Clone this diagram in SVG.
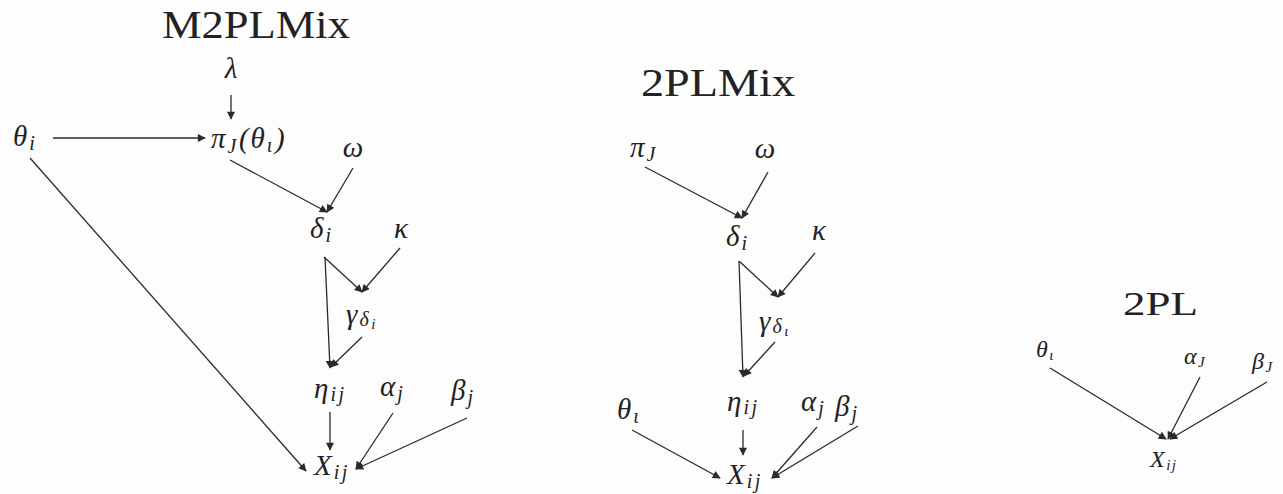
<svg xmlns="http://www.w3.org/2000/svg" width="1283" height="494" viewBox="0 0 1283 494">
<style>
.title{font-family:"Liberation Serif",serif;font-size:39px;fill:#222}
.m{font-family:"Liberation Serif","DejaVu Serif",serif;font-style:italic;font-size:29px;letter-spacing:2px;fill:#222}
.s{font-size:20px;letter-spacing:2.5px}
.ss{font-size:15px}
.sm{font-family:"Liberation Serif","DejaVu Serif",serif;font-style:italic;font-size:24px;letter-spacing:1.5px;fill:#222}
.e{stroke:#2a2a2a;stroke-width:1.3;fill:none;marker-end:url(#ah)}
</style>
<defs>
<marker id="ah" viewBox="0 0 10 10" refX="9" refY="5" markerWidth="9" markerHeight="8" markerUnits="userSpaceOnUse" orient="auto">
<path d="M0,0 L10,5 L0,10 z" fill="#2a2a2a"/>
</marker>
</defs>
<rect width="1283" height="494" fill="#fdfdfd"/>
<!-- M2PLMix -->
<g id="m2plmix-title"><text class="title" x="162" y="38" textLength="188" lengthAdjust="spacingAndGlyphs">M2PLMix</text></g>
<g id="m-lambda"><text class="m" x="232" y="78" text-anchor="middle">λ</text></g>
<g id="m-theta"><text class="m" x="13" y="146">θ<tspan class="s" dy="4">i</tspan></text></g>
<g id="m-pi"><text class="m" x="211" y="148">π<tspan class="s" dy="5">J</tspan><tspan dy="-5">(θ</tspan><tspan class="s" dy="4">ι</tspan><tspan dy="-4">)</tspan></text></g>
<g id="m-omega"><text class="m" x="354" y="157" text-anchor="middle">ω</text></g>
<g id="m-delta"><text class="m" x="310" y="238">δ<tspan class="s" dy="4">i</tspan></text></g>
<g id="m-kappa"><text class="m" x="402" y="238" text-anchor="middle">κ</text></g>
<g id="m-gamma"><text class="m" x="346" y="324">γ<tspan class="s" dy="2">δ</tspan><tspan class="ss" dy="3">i</tspan></text></g>
<g id="m-eta"><text class="m" x="314" y="398">η<tspan class="s" dy="3">ij</tspan></text></g>
<g id="m-alpha"><text class="m" x="380" y="396">α<tspan class="s" dy="4">j</tspan></text></g>
<g id="m-beta"><text class="m" x="451" y="400">β<tspan class="s" dy="4">j</tspan></text></g>
<g id="m-x"><text class="m" x="314" y="475">X<tspan class="s" dy="4">ij</tspan></text></g>
<!-- 2PLMix -->
<g id="twoplmix-title"><text class="title" x="641" y="96" textLength="154" lengthAdjust="spacingAndGlyphs">2PLMix</text></g>
<g id="p-pi"><text class="m" x="630" y="157">π<tspan class="s" dy="4">J</tspan></text></g>
<g id="p-omega"><text class="m" x="766" y="158" text-anchor="middle">ω</text></g>
<g id="p-delta"><text class="m" x="726" y="246">δ<tspan class="s" dy="4">i</tspan></text></g>
<g id="p-kappa"><text class="m" x="820" y="240" text-anchor="middle">κ</text></g>
<g id="p-gamma"><text class="m" x="759" y="331">γ<tspan class="s" dy="2">δ</tspan><tspan class="ss" dy="3">ι</tspan></text></g>
<g id="p-theta"><text class="m" x="617" y="419">θ<tspan class="s" dy="4">ι</tspan></text></g>
<g id="p-eta"><text class="m" x="727" y="411">η<tspan class="s" dy="3">ij</tspan></text></g>
<g id="p-alpha"><text class="m" x="801" y="411">α<tspan class="s" dy="4">j</tspan></text></g>
<g id="p-beta"><text class="m" x="835" y="416">β<tspan class="s" dy="4">j</tspan></text></g>
<g id="p-x"><text class="m" x="727" y="484">X<tspan class="s" dy="4">ij</tspan></text></g>
<!-- 2PL -->
<g id="twopl-title"><text class="title" x="1123" y="315" style="font-size:33px" textLength="75" lengthAdjust="spacingAndGlyphs">2PL</text></g>
<g id="q-theta"><text class="sm" x="1036" y="357">θ<tspan class="ss" dy="3">ι</tspan></text></g>
<g id="q-alpha"><text class="sm" x="1184" y="364">α<tspan class="ss" dy="3">J</tspan></text></g>
<g id="q-beta"><text class="sm" x="1252" y="369">β<tspan class="ss" dy="3">J</tspan></text></g>
<g id="q-x"><text class="sm" x="1150" y="467">X<tspan class="ss" dy="3">ij</tspan></text></g>
<g id="connectors">
<line class="e" x1="231" y1="95" x2="231" y2="119"/>
<line class="e" x1="53" y1="138" x2="205" y2="138"/>
<line class="e" x1="230" y1="160" x2="327" y2="212"/>
<line class="e" x1="353" y1="168" x2="327" y2="212"/>
<line class="e" x1="324" y1="257" x2="362" y2="292"/>
<line class="e" x1="400" y1="248" x2="362" y2="292"/>
<line class="e" x1="325" y1="257" x2="330" y2="368"/>
<line class="e" x1="362" y1="337" x2="331" y2="367"/>
<line class="e" x1="30" y1="158" x2="306" y2="471"/>
<line class="e" x1="330" y1="412" x2="330" y2="450"/>
<line class="e" x1="393" y1="413" x2="356" y2="469"/>
<line class="e" x1="467" y1="418" x2="356" y2="469"/>
<line class="e" x1="645" y1="167" x2="742" y2="218"/>
<line class="e" x1="768" y1="172" x2="742" y2="218"/>
<line class="e" x1="739" y1="261" x2="778" y2="297"/>
<line class="e" x1="815" y1="253" x2="778" y2="297"/>
<line class="e" x1="739" y1="261" x2="743" y2="377"/>
<line class="e" x1="775" y1="342" x2="744" y2="376"/>
<line class="e" x1="632" y1="430" x2="720" y2="478"/>
<line class="e" x1="743" y1="430" x2="743" y2="455"/>
<line class="e" x1="817" y1="427" x2="772" y2="478"/>
<line class="e" x1="858" y1="426" x2="772" y2="478"/>
<line class="e" x1="1050" y1="368" x2="1166" y2="439"/>
<line class="e" x1="1200" y1="377" x2="1168" y2="439"/>
<line class="e" x1="1267" y1="382" x2="1170" y2="439"/>
</g>
</svg>
